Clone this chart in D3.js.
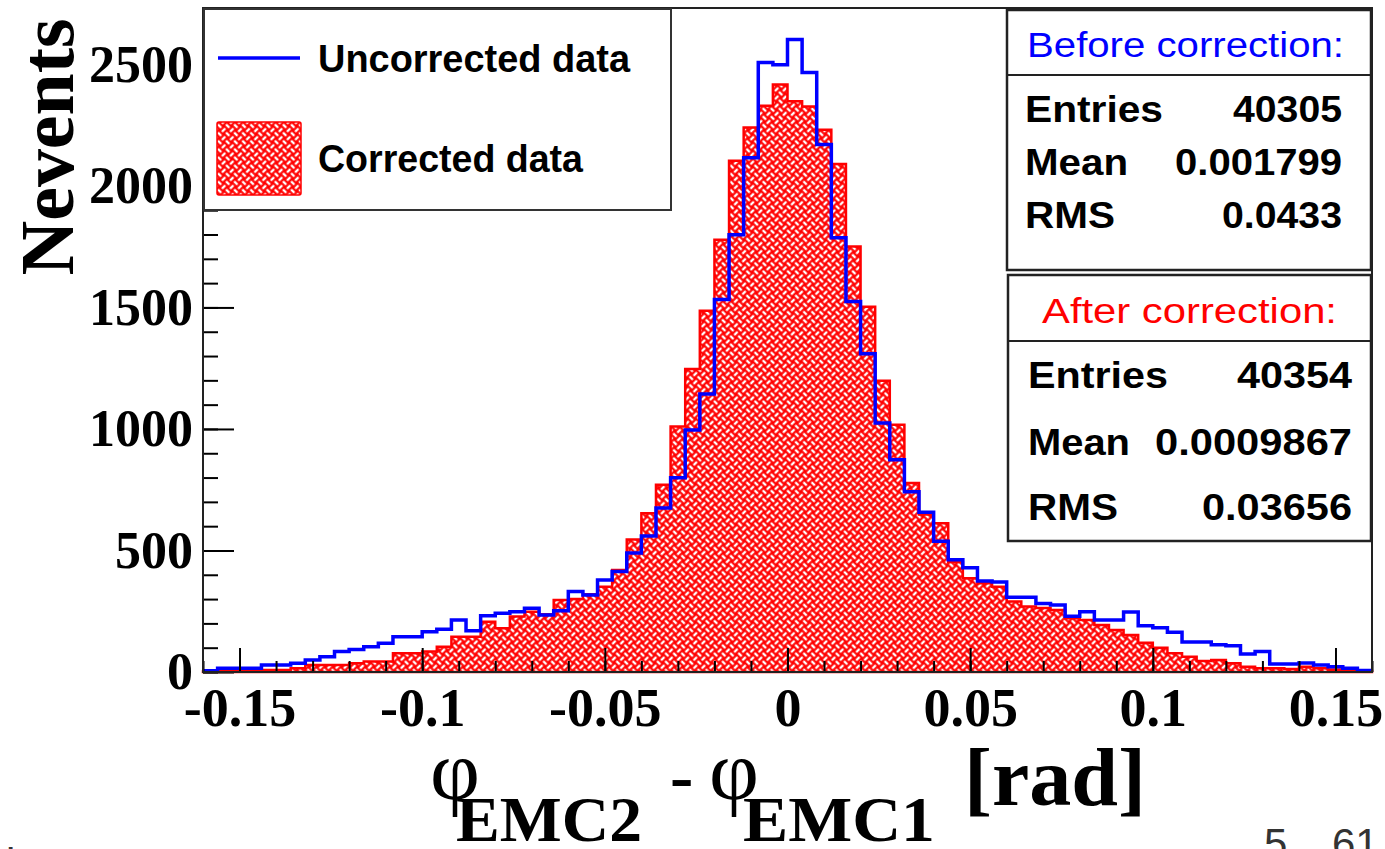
<!DOCTYPE html>
<html>
<head>
<meta charset="utf-8">
<script src="https://cdn.jsdelivr.net/npm/d3@7"></script>
<style>
  body { margin: 0; background: #fff; }
  svg { display: block; }
</style>
</head>
<body>
<svg id="chart" width="1385" height="849"></svg>
<script>
// Histogram binning: 80 bins of width 0.004 rad starting at -0.16
const binLow = -0.16;
const binWidth = 0.004;

// Counts per bin, before the correction (blue outline)
const uncorrected = [
  5, 15, 15, 15, 29, 29, 36, 49, 63, 84,
  93, 104, 118, 145, 145, 166, 176, 214, 170, 231,
  242, 248, 262, 235, 252, 331, 317, 379, 413, 490,
  560, 675, 799, 996, 1144, 1533, 1799, 2116, 2508, 2499,
  2602, 2467, 2170, 1787, 1524, 1309, 1025, 873, 742, 657,
  538, 462, 429, 374, 370, 308, 308, 282, 276, 229,
  248, 214, 214, 247, 190, 182, 164, 123, 123, 112,
  108, 74, 84, 33, 33, 37, 29, 22, 15, 6
];

// Counts per bin, after the correction (red hatched area)
const corrected = [
  2, 3, 5, 6, 8, 8, 15, 29, 29, 29,
  36, 43, 43, 77, 77, 84, 104, 145, 145, 207,
  180, 228, 248, 238, 296, 300, 320, 351, 420, 545,
  653, 770, 1010, 1247, 1486, 1778, 2104, 2240, 2330, 2417,
  2348, 2327, 2231, 2090, 1751, 1503, 1198, 1017, 778, 648,
  612, 453, 386, 365, 351, 290, 269, 263, 255, 221,
  214, 193, 173, 152, 120, 100, 77, 63, 45, 49,
  36, 22, 15, 15, 12, 22, 15, 10, 8, 4
];

const xTickValues = [-0.15, -0.1, -0.05, 0, 0.05, 0.1, 0.15];
const xTickLabels = ["-0.15", "-0.1", "-0.05", "0", "0.05", "0.1", "0.15"];
const yTickValues = [0, 500, 1000, 1500, 2000, 2500];
const yTickLabels = ["0", "500", "1000", "1500", "2000", "2500"];

const legendLabels = ["Uncorrected data", "Corrected data"];
const statsBefore = [["Entries", "40305"], ["Mean", "0.001799"], ["RMS", "0.0433"]];
const statsAfter = [["Entries", "40354"], ["Mean", "0.0009867"], ["RMS", "0.03656"]];

const svg = d3.select("#chart");
const frame = { left: 203, right: 1372, top: 8, bottom: 672 };

const x = d3.scaleLinear().domain([-0.16, 0.16]).range([frame.left, frame.right]);
const y = d3.scaleLinear().domain([0, 2732]).range([frame.bottom, frame.top]);

// Basket-weave hatch for the corrected histogram (weave rotated by 45 degrees)
const defs = svg.append("defs");
const T = 11.5, h = T / 2;
const pat = defs.append("pattern")
  .attr("id", "weave")
  .attr("patternUnits", "userSpaceOnUse")
  .attr("patternTransform", "rotate(45)")
  .attr("width", T).attr("height", T);
pat.append("rect").attr("width", T).attr("height", T).attr("fill", "#ff0000");
pat.append("path")
  .attr("d",
    `M0.5,${h / 2} L${h - 0.5},${h / 2} ` +
    `M${h + 0.5},${h + h / 2} L${T - 0.5},${h + h / 2} ` +
    `M${h + h / 2},0.5 L${h + h / 2},${h - 0.5} ` +
    `M${h / 2},${h + 0.5} L${h / 2},${T - 0.5}`)
  .attr("stroke", "#fff").attr("stroke-width", 2.4).attr("fill", "none");

function stepPoints(values) {
  const pts = values.map((v, i) => ({ e: binLow + i * binWidth, v }));
  pts.push({ e: binLow + values.length * binWidth, v: values[values.length - 1] });
  return pts;
}

const plot = svg.append("g");

// Corrected: filled steps
const area = d3.area()
  .curve(d3.curveStepAfter)
  .x(d => x(d.e))
  .y0(y(0))
  .y1(d => y(d.v));
plot.append("path")
  .datum(stepPoints(corrected))
  .attr("d", area)
  .attr("fill", "url(#weave)")
  .attr("stroke", "#ff0000")
  .attr("stroke-width", 2.5);

// Uncorrected: outline steps
const line = d3.line()
  .curve(d3.curveStepAfter)
  .x(d => x(d.e))
  .y(d => y(d.v));
plot.append("path")
  .datum(stepPoints(uncorrected))
  .attr("d", line)
  .attr("fill", "none")
  .attr("stroke", "#0000ff")
  .attr("stroke-width", 3.5);

// Axes
const axisFont = "'Liberation Serif', 'Times New Roman', serif";
const xMinor = d3.range(-16, 17).map(i => i / 100);
const yMinor = d3.range(0, 28).map(i => i * 100);

svg.append("g")
  .attr("transform", `translate(0,${frame.bottom})`)
  .call(d3.axisBottom(x).tickValues(xMinor).tickSize(-11).tickFormat(""))
  .call(g => g.select(".domain").remove())
  .call(g => g.selectAll("line").attr("stroke", "#000").attr("stroke-width", 2));

svg.append("g")
  .attr("transform", `translate(0,${frame.bottom})`)
  .call(d3.axisBottom(x).tickValues(xTickValues).tickSize(-24).tickPadding(16)
    .tickFormat((d, i) => xTickLabels[i]))
  .call(g => g.select(".domain").remove())
  .call(g => g.selectAll("line").attr("stroke", "#000").attr("stroke-width", 2))
  .call(g => g.selectAll("text")
    .attr("fill", "#000")
    .attr("font-family", axisFont)
    .attr("font-weight", "bold")
    .attr("font-size", 54));

svg.append("g")
  .attr("transform", `translate(${frame.left},0)`)
  .call(d3.axisLeft(y).tickValues(yMinor).tickSize(-15).tickFormat(""))
  .call(g => g.select(".domain").remove())
  .call(g => g.selectAll("line").attr("stroke", "#000").attr("stroke-width", 2));

svg.append("g")
  .attr("transform", `translate(${frame.left},0)`)
  .call(d3.axisLeft(y).tickValues(yTickValues).tickSize(-31).tickPadding(10)
    .tickFormat((d, i) => yTickLabels[i]))
  .call(g => g.select(".domain").remove())
  .call(g => g.selectAll("line").attr("stroke", "#000").attr("stroke-width", 2))
  .call(g => g.selectAll("text")
    .attr("fill", "#000")
    .attr("font-family", axisFont)
    .attr("font-weight", "bold")
    .attr("font-size", 52));

// Frame
svg.append("rect")
  .attr("x", frame.left).attr("y", frame.top)
  .attr("width", frame.right - frame.left).attr("height", frame.bottom - frame.top)
  .attr("fill", "none").attr("stroke", "#222").attr("stroke-width", 2);

// Axis titles
svg.append("text")
  .attr("transform", "translate(73,147) rotate(-90)")
  .attr("text-anchor", "middle")
  .attr("font-family", axisFont).attr("font-weight", "bold").attr("font-size", 76)
  .attr("textLength", 257).attr("lengthAdjust", "spacingAndGlyphs")
  .text("Nevents");

const xt = svg.append("g").attr("font-family", axisFont).attr("font-weight", "bold").attr("fill", "#000");
xt.append("text").attr("x", 430).attr("y", 799).attr("font-size", 84).attr("font-weight", "normal")
  .attr("textLength", 50).attr("lengthAdjust", "spacingAndGlyphs").text("φ");
xt.append("text").attr("x", 456).attr("y", 841).attr("font-size", 64)
  .attr("textLength", 186).attr("lengthAdjust", "spacingAndGlyphs").text("EMC2");
xt.append("text").attr("x", 670).attr("y", 800).attr("font-size", 70).text("-");
xt.append("text").attr("x", 709).attr("y", 799).attr("font-size", 84).attr("font-weight", "normal")
  .attr("textLength", 50).attr("lengthAdjust", "spacingAndGlyphs").text("φ");
xt.append("text").attr("x", 743).attr("y", 841).attr("font-size", 64)
  .attr("textLength", 192).attr("lengthAdjust", "spacingAndGlyphs").text("EMC1");
xt.append("text").attr("x", 964).attr("y", 805).attr("font-size", 82)
  .attr("textLength", 182).attr("lengthAdjust", "spacingAndGlyphs").text("[rad]");

// Legend
const sansFont = "'Liberation Sans', Arial, sans-serif";
const leg = svg.append("g");
leg.append("rect")
  .attr("x", 204).attr("y", 9).attr("width", 467).attr("height", 201)
  .attr("fill", "#fff").attr("stroke", "#333").attr("stroke-width", 2);
leg.append("line")
  .attr("x1", 218).attr("x2", 300).attr("y1", 58).attr("y2", 58)
  .attr("stroke", "#0000ff").attr("stroke-width", 3.5);
leg.append("rect")
  .attr("x", 217).attr("y", 122).attr("width", 84).attr("height", 73).attr("rx", 2)
  .attr("fill", "url(#weave)").attr("stroke", "#ff0000").attr("stroke-width", 1.5);
leg.append("text").attr("x", 318).attr("y", 72)
  .attr("font-family", sansFont).attr("font-weight", "bold").attr("font-size", 38)
  .attr("textLength", 312).attr("lengthAdjust", "spacingAndGlyphs")
  .text(legendLabels[0]);
leg.append("text").attr("x", 318).attr("y", 172)
  .attr("font-family", sansFont).attr("font-weight", "bold").attr("font-size", 38)
  .attr("textLength", 265).attr("lengthAdjust", "spacingAndGlyphs")
  .text(legendLabels[1]);

// Statistics boxes
function statsBox(cfg) {
  const g = svg.append("g");
  g.append("rect")
    .attr("x", cfg.x0).attr("y", cfg.y0)
    .attr("width", cfg.x1 - cfg.x0).attr("height", cfg.y1 - cfg.y0)
    .attr("fill", "#fff").attr("stroke", "#222").attr("stroke-width", 2.5);
  g.append("line")
    .attr("x1", cfg.x0).attr("x2", cfg.x1).attr("y1", cfg.sep).attr("y2", cfg.sep)
    .attr("stroke", "#222").attr("stroke-width", 2);
  g.append("text")
    .attr("x", cfg.titleX).attr("y", cfg.titleY)
    .attr("font-family", sansFont).attr("font-size", 35).attr("fill", cfg.color)
    .attr("textLength", cfg.titleW).attr("lengthAdjust", "spacingAndGlyphs")
    .text(cfg.title);
  cfg.rows.forEach((r, i) => {
    g.append("text")
      .attr("x", cfg.labelX).attr("y", cfg.rowY[i])
      .attr("font-family", sansFont).attr("font-weight", "bold").attr("font-size", 36)
      .attr("textLength", cfg.labelW[i]).attr("lengthAdjust", "spacingAndGlyphs")
      .text(r[0]);
    g.append("text")
      .attr("x", cfg.valueR - cfg.valueW[i]).attr("y", cfg.rowY[i])
      .attr("font-family", sansFont).attr("font-weight", "bold").attr("font-size", 36)
      .attr("textLength", cfg.valueW[i]).attr("lengthAdjust", "spacingAndGlyphs")
      .text(r[1]);
  });
}

statsBox({
  x0: 1007, x1: 1371, y0: 10, y1: 270, sep: 75,
  title: "Before correction:", color: "#0000ff", titleX: 1027, titleY: 57, titleW: 317,
  rows: statsBefore, rowY: [122, 175, 228], labelX: 1025,
  labelW: [138, 103, 90], valueR: 1342, valueW: [109, 167, 120]
});
statsBox({
  x0: 1008, x1: 1371, y0: 275, y1: 541, sep: 341,
  title: "After correction:", color: "#ff0000", titleX: 1042, titleY: 323, titleW: 295,
  rows: statsAfter, rowY: [388, 455, 520], labelX: 1028,
  labelW: [140, 102, 90], valueR: 1352, valueW: [115, 197, 150]
});

// Slide page number, partly below the lower edge
svg.append("g")
  .attr("font-family", sansFont).attr("font-size", 42).attr("fill", "#333")
  .call(g => {
    g.append("text").attr("x", 1264).attr("y", 858).text("5");
    g.append("text").attr("x", 1332).attr("y", 858).text("61");
    g.append("text").attr("x", 6).attr("y", 878).text("i");
  });
</script>
</body>
</html>
